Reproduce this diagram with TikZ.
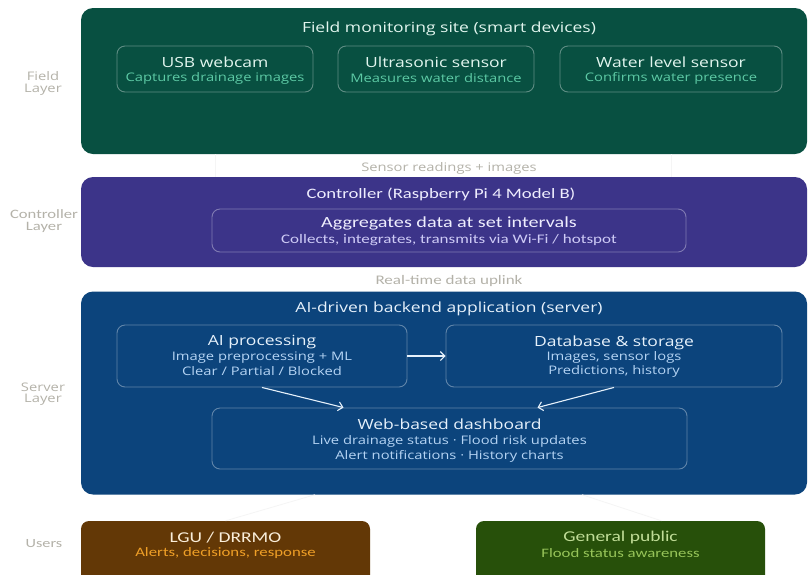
\documentclass[tikz,border=0pt]{standalone}
\usepackage{fontspec}
\setmainfont{Open Sans}[FakeStretch=1.25]
\newfontfamily\calib{Carlito}[FakeStretch=1.3]
\usetikzlibrary{arrows.meta}
\definecolor{tealbg}{HTML}{085041}
\definecolor{tealtx}{HTML}{E1F5EE}
\definecolor{tealsub}{HTML}{5DCAA5}
\definecolor{purpbg}{HTML}{3C3489}
\definecolor{purptx}{HTML}{EEEDFE}
\definecolor{purpsub}{HTML}{CECBF6}
\definecolor{bluebg}{HTML}{0C447C}
\definecolor{bluetx}{HTML}{E6F1FB}
\definecolor{bluesub}{HTML}{B5D4F4}
\definecolor{ambbg}{HTML}{633806}
\definecolor{ambtx}{HTML}{FAEEDA}
\definecolor{ambsub}{HTML}{EF9F27}
\definecolor{grnbg}{HTML}{27500A}
\definecolor{grntx}{HTML}{C0DD97}
\definecolor{grnsub}{HTML}{97C459}
\definecolor{labgray}{HTML}{B4B2A9}
\tikzset{
  panel/.style={draw=none, rounded corners=12pt, inner sep=0pt},
  innerbox/.style={draw=white, draw opacity=0.35, line width=0.9pt, rounded corners=8pt, inner sep=0pt},
  userbox/.style={draw=none, rounded corners=8pt, inner sep=0pt},
  txt/.style={inner sep=0pt, anchor=center, yshift=-1.5pt},
  osT/.style={txt, font=\fontsize{14}{16}\selectfont},
  osS/.style={txt, font=\fontsize{11.8}{14}\selectfont},
  lay/.style={txt, text=labgray, align=center},
  flow/.style={draw=bluetx, line width=1.1pt, -{Straight Barb[length=4.5pt,width=9pt,line width=1.1pt]}},
  faint/.style={draw=black!4, line width=0.8pt},
}
\begin{document}
\begin{tikzpicture}[x=1pt,y=-1pt]
\clip (0,0) rectangle (808,574);
\fill[white] (0,0) rectangle (808,574);

% ---- Field layer
\node[panel, fill=tealbg, minimum width=726pt, minimum height=146pt] (field) at (444,81) {};
\node[osT, text=tealtx] (fieldt) at (449,27.5) {Field monitoring site (smart devices)};
\node[innerbox, minimum width=196pt, minimum height=46pt] (usb) at (215,69) {};
\node[osT, text=tealtx] (usbt) at (215,61) {USB webcam};
\node[osS, text=tealsub] (usbs) at (215,77) {Captures drainage images};
\node[innerbox, minimum width=196pt, minimum height=46pt] (ultra) at (436,69) {};
\node[osT, text=tealtx] (ultrat) at (436,61) {Ultrasonic sensor};
\node[osS, text=tealsub] (ultras) at (436,77) {Measures water distance};
\node[innerbox, minimum width=222pt, minimum height=46pt] (water) at (671,69) {};
\node[osT, text=tealtx] (watert) at (671,61) {Water level sensor};
\node[osS, text=tealsub] (waters) at (671,77) {Confirms water presence};

\node[osS, text=labgray] (gap1) at (449,167) {Sensor readings + images};

% ---- Controller layer
\node[panel, fill=purpbg, minimum width=726pt, minimum height=90pt] (ctrl) at (444,222) {};
\node[txt, text=purptx, font=\calib\fontsize{14.4}{16}\selectfont] (ctrlt) at (441,193) {Controller (Raspberry Pi 4 Model B)};
\node[innerbox, minimum width=474pt, minimum height=43pt] (agg) at (449,230.5) {};
\node[txt, text=purptx, font=\calib\fontsize{15.5}{17}\selectfont] (aggt) at (449,222) {Aggregates data at set intervals};
\node[txt, text=purpsub, font=\calib\fontsize{13.1}{15}\selectfont] (aggs) at (449,239) {Collects, integrates, transmits via Wi-Fi / hotspot};

\node[txt, text=labgray, font=\calib\fontsize{13.1}{15}\selectfont] (gap2) at (449,279) {Real-time data uplink};

% ---- Server layer
\node[panel, fill=bluebg, minimum width=726pt, minimum height=203pt] (server) at (444,393) {};
\node[osT, text=bluetx] (servert) at (449,307.5) {AI-driven backend application (server)};
\node[innerbox, minimum width=290pt, minimum height=62pt] (ai) at (262,356) {};
\node[osT, text=bluetx] (ait) at (262,341) {AI processing};
\node[osS, text=bluesub] (ais1) at (262,356) {Image preprocessing + ML};
\node[osS, text=bluesub] (ais2) at (262,370) {Clear / Partial / Blocked};
\node[innerbox, minimum width=336pt, minimum height=62pt] (db) at (614,356) {};
\node[osT, text=bluetx] (dbt) at (614,341) {Database \& storage};
\node[osS, text=bluesub] (dbs1) at (614,356) {Images, sensor logs};
\node[osS, text=bluesub] (dbs2) at (614,370) {Predictions, history};
\node[innerbox, minimum width=475pt, minimum height=61pt] (dash) at (449.5,438.5) {};
\node[osT, text=bluetx] (dasht) at (449.5,423) {Web-based dashboard};
\node[osS, text=bluesub] (dashs1) at (449.5,440) {Live drainage status · Flood risk updates};
\node[osS, text=bluesub] (dashs2) at (449.5,455) {Alert notifications · History charts};

\draw[flow] (ai.east) -- (db.west);
\draw[flow] (ai.south) -- ([xshift=-106pt]dash.north);
\draw[flow] (db.south) -- ([xshift=88pt]dash.north);

% ---- Users
\node[userbox, fill=ambbg, minimum width=289pt, minimum height=62pt] (lgu) at (225.5,552) {};
\node[txt, text=ambtx, font=\calib\fontsize{15}{17}\selectfont] (lgut) at (225.5,536) {LGU / DRRMO};
\node[txt, text=ambsub, font=\calib\fontsize{12.9}{15}\selectfont] (lgus) at (225.5,552) {Alerts, decisions, response};
\node[userbox, fill=grnbg, minimum width=289pt, minimum height=62pt] (pub) at (620.5,552) {};
\node[txt, text=grntx, font=\calib\fontsize{15}{17}\selectfont] (pubt) at (620.5,536) {General public};
\node[txt, text=grnsub, font=\calib\fontsize{12.9}{15}\selectfont] (pubs) at (620.5,552) {Flood status awareness};

% faint connectors
\draw[faint] (field.south -| usb.south) -- (ctrl.north -| usb.south);
\draw[faint] (field.south -| water.south) -- (ctrl.north -| water.south);
\draw[faint] ([xshift=-129pt]server.south) -- (lgu.north);
\draw[faint] ([xshift=138pt]server.south) -- ([xshift=41pt]pub.north);

% ---- Layer labels
\node[lay, font=\fontsize{11.8}{12}\selectfont] (lf) at (43,82) {Field\\Layer};
\node[lay, font=\calib\fontsize{12.8}{12}\selectfont] (lc) at (44,220) {Controller\\Layer};
\node[lay, font=\fontsize{11.8}{11.5}\selectfont] (ls) at (43,392.5) {Server\\Layer};
\node[lay, font=\calib\fontsize{12.5}{14}\selectfont] (lu) at (44,542) {Users};
\end{tikzpicture}
\end{document}
